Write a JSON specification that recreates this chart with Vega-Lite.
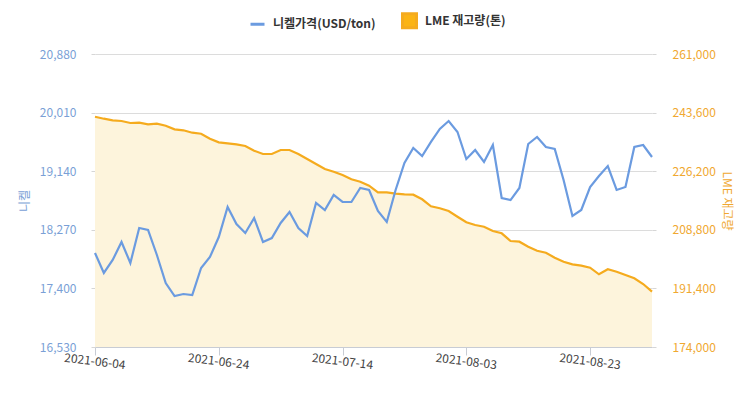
{
  "$schema": "https://vega.github.io/schema/vega-lite/v6.json",
  "width": 557,
  "height": 293,
  "autosize": {"type": "none"},
  "padding": {"left": 95, "top": 54, "right": 102, "bottom": 47},
  "background": "white",
  "config": {
    "view": {"stroke": null},
    "font": "Noto Sans CJK KR"
  },
  "data": {"values": [
    {"date": "2021-06-04", "nickel": 17926, "lme": 242383},
    {"date": "2021-06-07", "nickel": 17629, "lme": 241789},
    {"date": "2021-06-08", "nickel": 17822, "lme": 241314},
    {"date": "2021-06-09", "nickel": 18089, "lme": 241106},
    {"date": "2021-06-10", "nickel": 17777, "lme": 240512},
    {"date": "2021-06-11", "nickel": 18297, "lme": 240601},
    {"date": "2021-06-14", "nickel": 18267, "lme": 240126},
    {"date": "2021-06-15", "nickel": 17896, "lme": 240304},
    {"date": "2021-06-16", "nickel": 17480, "lme": 239710},
    {"date": "2021-06-17", "nickel": 17287, "lme": 238641},
    {"date": "2021-06-18", "nickel": 17317, "lme": 238344},
    {"date": "2021-06-21", "nickel": 17302, "lme": 237632},
    {"date": "2021-06-22", "nickel": 17703, "lme": 237335},
    {"date": "2021-06-23", "nickel": 17866, "lme": 235850},
    {"date": "2021-06-24", "nickel": 18163, "lme": 234781},
    {"date": "2021-06-25", "nickel": 18609, "lme": 234484},
    {"date": "2021-06-28", "nickel": 18356, "lme": 234187},
    {"date": "2021-06-29", "nickel": 18223, "lme": 233682},
    {"date": "2021-06-30", "nickel": 18445, "lme": 232287},
    {"date": "2021-07-01", "nickel": 18089, "lme": 231307},
    {"date": "2021-07-02", "nickel": 18148, "lme": 231307},
    {"date": "2021-07-05", "nickel": 18371, "lme": 232495},
    {"date": "2021-07-06", "nickel": 18534, "lme": 232495},
    {"date": "2021-07-07", "nickel": 18297, "lme": 231307},
    {"date": "2021-07-08", "nickel": 18178, "lme": 229822},
    {"date": "2021-07-09", "nickel": 18668, "lme": 228338},
    {"date": "2021-07-12", "nickel": 18564, "lme": 226853},
    {"date": "2021-07-13", "nickel": 18787, "lme": 226051},
    {"date": "2021-07-14", "nickel": 18683, "lme": 225071},
    {"date": "2021-07-15", "nickel": 18683, "lme": 223795},
    {"date": "2021-07-16", "nickel": 18891, "lme": 223082},
    {"date": "2021-07-19", "nickel": 18861, "lme": 221894},
    {"date": "2021-07-20", "nickel": 18549, "lme": 219934},
    {"date": "2021-07-21", "nickel": 18386, "lme": 219934},
    {"date": "2021-07-22", "nickel": 18861, "lme": 219519},
    {"date": "2021-07-23", "nickel": 19262, "lme": 219340},
    {"date": "2021-07-26", "nickel": 19484, "lme": 219222},
    {"date": "2021-07-27", "nickel": 19366, "lme": 217856},
    {"date": "2021-07-28", "nickel": 19574, "lme": 215777},
    {"date": "2021-07-29", "nickel": 19767, "lme": 215184},
    {"date": "2021-07-30", "nickel": 19885, "lme": 214382},
    {"date": "2021-08-02", "nickel": 19722, "lme": 212689},
    {"date": "2021-08-03", "nickel": 19321, "lme": 211026},
    {"date": "2021-08-04", "nickel": 19455, "lme": 210225},
    {"date": "2021-08-05", "nickel": 19277, "lme": 209720},
    {"date": "2021-08-06", "nickel": 19529, "lme": 208443},
    {"date": "2021-08-09", "nickel": 18742, "lme": 207760},
    {"date": "2021-08-10", "nickel": 18712, "lme": 205474},
    {"date": "2021-08-11", "nickel": 18891, "lme": 205266},
    {"date": "2021-08-12", "nickel": 19544, "lme": 203781},
    {"date": "2021-08-13", "nickel": 19648, "lme": 202593},
    {"date": "2021-08-16", "nickel": 19499, "lme": 201999},
    {"date": "2021-08-17", "nickel": 19470, "lme": 200515},
    {"date": "2021-08-18", "nickel": 19009, "lme": 199327},
    {"date": "2021-08-19", "nickel": 18475, "lme": 198555},
    {"date": "2021-08-20", "nickel": 18564, "lme": 198139},
    {"date": "2021-08-23", "nickel": 18905, "lme": 197545},
    {"date": "2021-08-24", "nickel": 19069, "lme": 195587},
    {"date": "2021-08-25", "nickel": 19217, "lme": 197070},
    {"date": "2021-08-26", "nickel": 18861, "lme": 196358},
    {"date": "2021-08-27", "nickel": 18905, "lme": 195377},
    {"date": "2021-08-31", "nickel": 19499, "lme": 194398},
    {"date": "2021-09-01", "nickel": 19529, "lme": 192704},
    {"date": "2021-09-02", "nickel": 19351, "lme": 190420}
  ]},
  "encoding": {
    "x": {
      "field": "date",
      "type": "ordinal",
      "scale": {"type": "point", "padding": 0},
      "axis": {
        "title": null,
        "values": ["2021-06-04", "2021-06-24", "2021-07-14", "2021-08-03", "2021-08-23"],
        "grid": false,
        "domainColor": "#c8ccd4",
        "tickColor": "#c8ccd4",
        "tickSize": 8,
        "labelAngle": 7,
        "labelAlign": "center",
        "labelBaseline": "top",
        "labelPadding": 1,
        "labelFontSize": 12,
        "labelColor": "#444444"
      }
    }
  },
  "layer": [
    {
      "encoding": {
        "y": {
          "field": "lme",
          "type": "quantitative",
          "scale": {"domain": [174000, 261000], "zero": false, "nice": false},
          "axis": {
            "orient": "right",
            "title": "LME 재고량",
            "titleAngle": 90,
            "titleColor": "#f0a830",
            "titleFontSize": 12,
            "titleFontWeight": "normal",
            "titlePadding": 4,
            "values": [174000, 191400, 208800, 226200, 243600, 261000],
            "format": ",d",
            "grid": false,
            "domain": false,
            "tickColor": "#d6d6d6",
            "tickSize": 4,
            "labelPadding": 16,
            "labelFontSize": 12,
            "labelColor": "#f0a830"
          }
        }
      },
      "layer": [
        {
          "mark": {"type": "area", "color": "#fdf4dc", "opacity": 1},
          "encoding": {"y2": {"datum": 174000}}
        },
        {
          "mark": {"type": "line", "strokeWidth": 2.2},
          "encoding": {"color": {"datum": "LME 재고량(톤)"}}
        }
      ]
    },
    {
      "mark": {"type": "line", "strokeWidth": 2.2},
      "encoding": {
        "y": {
          "field": "nickel",
          "type": "quantitative",
          "scale": {"domain": [16530, 20880], "zero": false, "nice": false},
          "axis": {
            "orient": "left",
            "title": "니켈",
            "titleColor": "#7a9fd6",
            "titleFontSize": 12,
            "titleFontWeight": "normal",
            "titlePadding": 8,
            "values": [16530, 17400, 18270, 19140, 20010, 20880],
            "format": ",d",
            "grid": true,
            "gridColor": "#dcdcdc",
            "domain": false,
            "tickColor": "#d6d6d6",
            "tickSize": 4,
            "labelPadding": 15,
            "labelFontSize": 12,
            "labelColor": "#7a9fd6"
          }
        },
        "color": {
          "datum": "니켈가격(USD/ton)",
          "scale": {
            "domain": ["니켈가격(USD/ton)", "LME 재고량(톤)"],
            "range": ["#6b9be0", "#f5ab1e"]
          },
          "legend": {
            "title": null,
            "orient": "none",
            "direction": "horizontal",
            "legendX": 154,
            "legendY": -42,
            "symbolSize": 196,
            "labelFontSize": 12,
            "labelFontWeight": "bold",
            "labelColor": "#333333",
            "labelOffset": 7,
            "columnPadding": 20,
            "encode": {
              "symbols": {
                "update": {
                  "shape": {"signal": "datum.value === 'LME 재고량(톤)' ? 'square' : 'stroke'"},
                  "fill": {"signal": "datum.value === 'LME 재고량(톤)' ? '#fbb414' : 'transparent'"},
                  "stroke": {"signal": "datum.value === 'LME 재고량(톤)' ? 'transparent' : '#6b9be0'"},
                  "strokeWidth": {"value": 3},
                  "opacity": {"value": 1}
                }
              }
            }
          }
        }
      }
    }
  ],
  "resolve": {"scale": {"y": "independent"}}
}
